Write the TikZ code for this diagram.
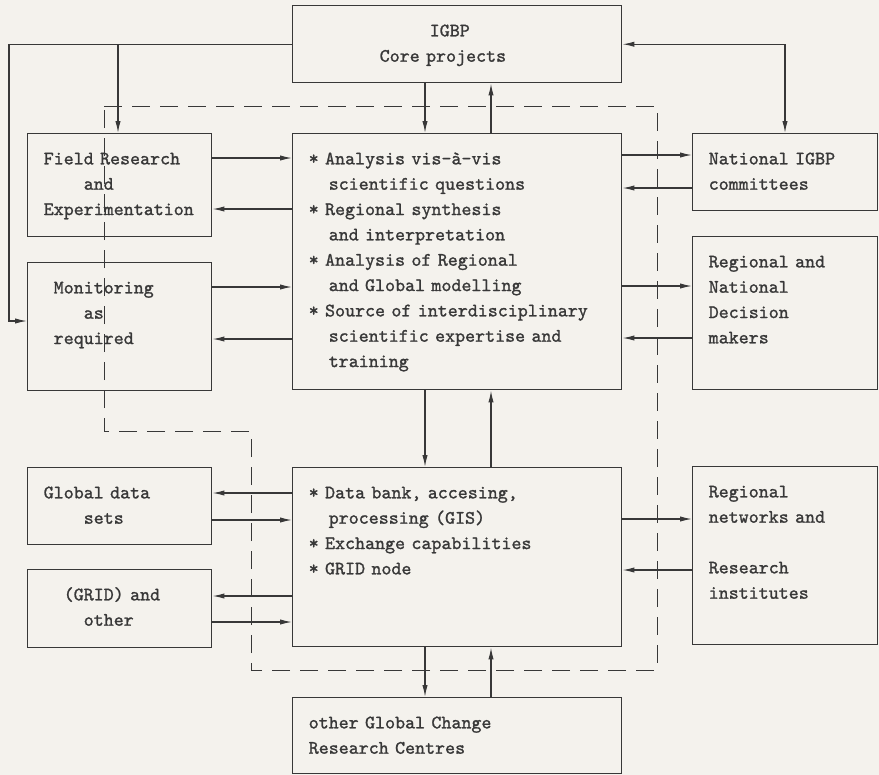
\documentclass[tikz,border=0pt]{standalone}
\usepackage{fontspec}
\usetikzlibrary{arrows.meta,calc,positioning}
\newfontfamily\typewfont[FakeBold=1.2]{lmmono10-regular.otf}
\newcommand\skipcols[1]{\hspace*{#1\fontcharwd\font`x}}
\definecolor{ink}{rgb}{0.22,0.22,0.22}
\definecolor{paper}{rgb}{0.955,0.948,0.930}
\tikzset{
  box/.style={draw=ink, text=ink, line width=1.1pt, anchor=north west, align=left,
    inner xsep=12pt, inner ysep=0pt, text height=23pt,
    font=\typewfont\fontsize{14.29pt}{19pt}\selectfont},
  lbox/.style={box, text width=114pt},
  cbox/.style={box, text width=222.75pt},
  rbox/.style={box, text width=114.75pt},
  arr/.style={draw=ink, line width=0.9pt, -{Latex[length=9pt,width=4pt]}},
  arrboth/.style={draw=ink, line width=0.9pt, {Latex[length=9pt,width=4pt]}-{Latex[length=9pt,width=4pt]}},
  frame/.style={draw=ink, line width=0.75pt, dash pattern=on 13.5pt off 7.5pt}
}

\begin{document}
\begin{tikzpicture}[x=0.75pt,y=-0.75pt]
\fill[paper] (0,0) rectangle (879,775);
\useasboundingbox (0,0) rectangle (879,775);

% dashed frame round the centre
\draw[frame] (104,106) -- (657,106) -- (657,670) -- (251,670) -- (251,431) -- (104,431) -- cycle;

% centre column
\node[box, inner xsep=65.25pt, text width=116.25pt, text depth=34.75pt] (igbp) at (292,5)
  {\skipcols{5}IGBP\\Core projects};
\node[cbox, text depth=169pt] (anal) at (292,133)
  {{*} Analysis vis-à-vis\\\skipcols{2}scientific questions\\{*} Regional synthesis\\\skipcols{2}and interpretation\\{*} Analysis of Regional\\\skipcols{2}and Global modelling\\{*} Source of interdisciplinary\\\skipcols{2}scientific expertise and\\\skipcols{2}training};
\node[cbox, text depth=111.25pt] (data) at (292,467)
  {{*} Data bank, accesing,\\\skipcols{2}processing (GIS)\\{*} Exchange capabilities\\{*} GRID node};
\node[cbox, text depth=34pt] (other) at (292,697)
  {other Global Change\\Research Centres};

% left column
\node[lbox, text depth=54.25pt] (field) at (27,133)
  {Field Research\\\skipcols{4}and\\Experimentation};
\node[lbox, text depth=73pt] (monit) at (27,262)
  {\skipcols{1}Monitoring\\\skipcols{4}as\\\skipcols{1}required};
\node[lbox, text depth=34.75pt] (glob) at (27,467)
  {Global data\\\skipcols{4}sets};
\node[lbox, text depth=35.5pt] (grid) at (27,569)
  {\skipcols{2}(GRID) and\\\skipcols{4}other};

% right column
\node[rbox, text depth=34.75pt] (natl) at (692,133)
  {National IGBP\\committees};
\node[rbox, text depth=91.75pt] (decis) at (692,236)
  {Regional and\\National\\Decision\\makers};
\node[rbox, text depth=110.5pt] (netw) at (692,466)
  {Regional\\networks and\\[19pt]Research\\institutes};

% links from the core projects
\draw[arr] (igbp.west) -| ([xshift=-13.5pt,yshift=-44.25pt]monit.north west) -- ([yshift=-44.25pt]monit.north west);
\draw[arr] ([xshift=68.25pt]field.north west |- igbp.west) -- ([xshift=68.25pt]field.north west);
\draw[arrboth] (igbp.east) -| ([xshift=69.75pt]natl.north west);

% up and down the centre
\draw[arr] ([xshift=99.75pt]igbp.south west) -- ([xshift=99.75pt]igbp.south west |- anal.north);
\draw[arr] ([xshift=149.25pt]anal.north west) -- ([xshift=149.25pt]anal.north west |- igbp.south);
\draw[arr] ([xshift=99.75pt]anal.south west) -- ([xshift=99.75pt]anal.south west |- data.north);
\draw[arr] ([xshift=149.25pt]data.north west) -- ([xshift=149.25pt]data.north west |- anal.south);
\draw[arr] ([xshift=99.75pt]data.south west) -- ([xshift=99.75pt]data.south west |- other.north);
\draw[arr] ([xshift=149.25pt]other.north west) -- ([xshift=149.25pt]other.north west |- data.south);

% left side
\draw[arr] ([yshift=-18.75pt]field.north east) -- ([yshift=-18.75pt]field.north east -| anal.west);
\draw[arr] ([yshift=-57pt]field.north east -| anal.west) -- ([yshift=-57pt]field.north east);
\draw[arr] ([yshift=-18.75pt]monit.north east) -- ([yshift=-18.75pt]monit.north east -| anal.west);
\draw[arr] ([yshift=-57.75pt]monit.north east -| anal.west) -- ([yshift=-57.75pt]monit.north east);
\draw[arr] ([yshift=-19.5pt]glob.north east -| data.west) -- ([yshift=-19.5pt]glob.north east);
\draw[arr] ([yshift=-39.75pt]glob.north east) -- ([yshift=-39.75pt]glob.north east -| data.west);
\draw[arr] ([yshift=-20.25pt]grid.north east -| data.west) -- ([yshift=-20.25pt]grid.north east);
\draw[arr] ([yshift=-39.75pt]grid.north east) -- ([yshift=-39.75pt]grid.north east -| data.west);

% right side
\draw[arr] ([yshift=-16.5pt]natl.north west -| anal.east) -- ([yshift=-16.5pt]natl.north west);
\draw[arr] ([yshift=-41.25pt]natl.north west) -- ([yshift=-41.25pt]natl.north west -| anal.east);
\draw[arr] ([yshift=-37.5pt]decis.north west -| anal.east) -- ([yshift=-37.5pt]decis.north west);
\draw[arr] ([yshift=-76.5pt]decis.north west) -- ([yshift=-76.5pt]decis.north west -| anal.east);
\draw[arr] ([yshift=-39.75pt]netw.north west -| data.east) -- ([yshift=-39.75pt]netw.north west);
\draw[arr] ([yshift=-78pt]netw.north west) -- ([yshift=-78pt]netw.north west -| data.east);
\end{tikzpicture}
\end{document}
